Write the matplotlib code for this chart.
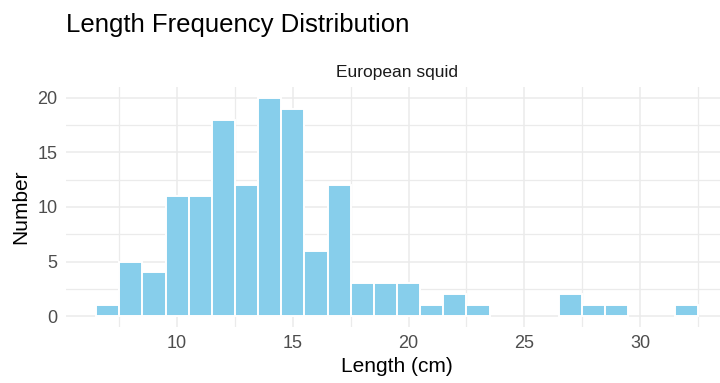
import matplotlib
matplotlib.use("Agg")
import matplotlib.pyplot as plt
from matplotlib.ticker import MultipleLocator

plt.rcParams["font.family"] = ["Liberation Sans", "DejaVu Sans"]

# Length bins (cm) and the number of squid caught in each
lengths = [7, 8, 9, 10, 11, 12, 13, 14, 15, 16, 17, 18, 19, 20, 21, 22, 23, 27, 28, 29, 32]
counts = [1, 5, 4, 11, 11, 18, 12, 20, 19, 6, 12, 3, 3, 3, 1, 2, 1, 2, 1, 1, 1]

species = "European squid"
x_ticks = [10, 15, 20, 25, 30]
y_ticks = [0, 5, 10, 15, 20]

W, H = 720, 383
fig = plt.figure(figsize=(W / 100, H / 100), dpi=100)
ax = fig.add_axes([66 / W, 56 / H, (728 - 66) / W, (327 - 87) / H])

ax.bar(lengths, counts, width=1.0, color="#87CEEB", edgecolor="white", linewidth=1.4, zorder=3)

ax.set_xlim(5.2, 33.8)
ax.set_ylim(-1, 21)
ax.set_xticks(x_ticks)
ax.set_yticks(y_ticks)
ax.xaxis.set_minor_locator(MultipleLocator(2.5))
ax.yaxis.set_minor_locator(MultipleLocator(2.5))
ax.grid(which="major", color="#EBEBEB", linewidth=1.1, zorder=0)
ax.grid(which="minor", color="#EBEBEB", linewidth=0.9, zorder=0)
ax.tick_params(which="both", length=0, labelsize=13, labelcolor="#4D4D4D", pad=6)
for s in ax.spines.values():
    s.set_visible(False)

ax.set_xlabel("Length (cm)", fontsize=15, labelpad=3)
ax.set_ylabel("Number", fontsize=15, labelpad=5)

# facet strip label and plot title
ax.text(0.5, 1.03, species, transform=ax.transAxes, ha="center", va="bottom",
        fontsize=12.5, color="#1A1A1A")
fig.text(66 / W, 1 - 25 / H, "Length Frequency Distribution", ha="left", va="center",
         fontsize=18.5, color="black")

fig.savefig("out.png", dpi=100)
